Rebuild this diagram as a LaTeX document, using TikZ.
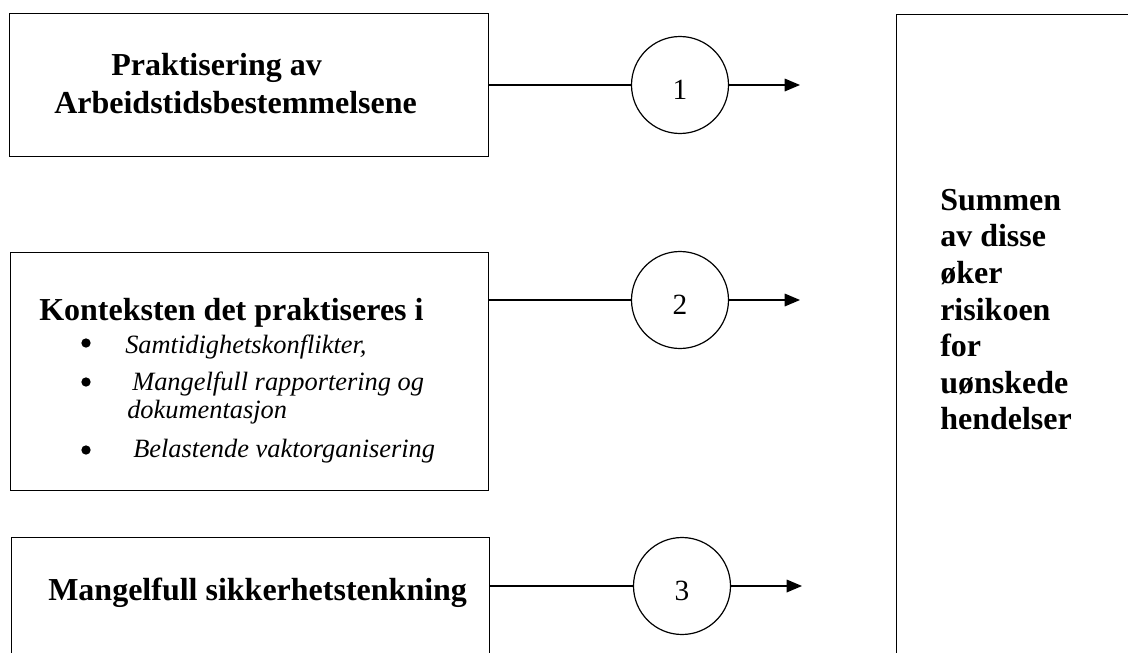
\documentclass[tikz,border=0pt]{standalone}
\usepackage{fontspec}
\setmainfont{Liberation Serif}
\usetikzlibrary{arrows.meta}
\begin{document}
\begin{tikzpicture}[x=0.75pt,y=-0.75pt,
  box/.style={draw=black,line width=0.9pt,inner sep=0pt,anchor=north west},
  hd/.style={font=\fontsize{24}{28.5}\selectfont\bfseries,inner sep=0pt,anchor=base west},
  itm/.style={font=\fontsize{19.8}{25}\selectfont\itshape,inner sep=0pt,anchor=base west},
  num/.style={circle,draw=black,line width=0.9pt,minimum size=72.75pt,inner sep=0pt,text height=22pt,text depth=0pt,font=\fontsize{22}{26}\selectfont},
  conn/.style={line width=0.9pt},
  arr/.style={line width=0.9pt,-{Triangle[length=11.5pt,width=9.5pt]}},
  dot/.style={circle,fill=black,inner sep=0pt,minimum size=7pt}]
\useasboundingbox (0,0) rectangle (1128,653);
\fill[white] (0,0) rectangle (1128,653);
% boxes
\node[box,minimum width=359.25pt,minimum height=107.25pt] (b1) at (9,13) {};
\node[box,minimum width=358.5pt,minimum height=178.5pt] (b2) at (10,252) {};
\node[box,minimum width=358.5pt,minimum height=122.25pt] (b3) at (11,537) {};
\node[box,minimum width=228pt,minimum height=514.5pt] (sum) at (896,14) {};
% texts
\node[hd] (t1a) at (111,75) {Praktisering av};
\node[hd] (t1b) at (54,113) {Arbeidstidsbestemmelsene};
\node[hd] (t2) at (39,320) {Konteksten det praktiseres i};
\node[dot] (d1) at (86,343) {};
\node[dot] (d2) at (86,382) {};
\node[dot] (d3) at (86,450) {};
\node[itm] (i1) at (125,353) {Samtidighetskonflikter,};
\node[itm] (i2) at (132,390) {Mangelfull rapportering og};
\node[itm] (i2b) at (127,418) {dokumentasjon};
\node[itm] (i3) at (133,457) {Belastende vaktorganisering};
\node[hd] (t3) at (48,600) {Mangelfull sikkerhetstenkning};
\node[font=\fontsize{24}{27.4}\selectfont\bfseries,inner sep=0pt,anchor=north west,align=left] (st) at (940,189)
  {Summen\\av disse\\øker\\risikoen\\for\\uønskede\\hendelser};
% circles
\node[num] (c1) at (680,85) {1};
\node[num] (c2) at (680,300) {2};
\node[num] (c3) at (682,586) {3};
\coordinate (e1) at (800,85);
\coordinate (e2) at (800,300);
\coordinate (e3) at (802,586);
% connectors
\draw[conn] (b1.east |- c1.west) -- (c1.west);
\draw[conn] (b2.east |- c2.west) -- (c2.west);
\draw[conn] (b3.east |- c3.west) -- (c3.west);
\draw[arr] (c1.east) -- (e1);
\draw[arr] (c2.east) -- (e2);
\draw[arr] (c3.east) -- (e3);
\end{tikzpicture}
\end{document}
